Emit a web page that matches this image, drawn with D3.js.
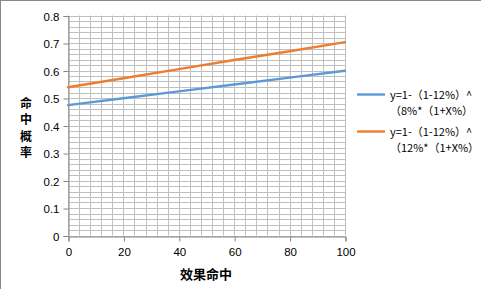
<!DOCTYPE html>
<html><head><meta charset="utf-8">
<script src="https://cdn.jsdelivr.net/npm/d3@7"></script>
<style>html,body{margin:0;padding:0;background:#fff;}svg{display:block;}</style>
</head><body><svg id="c" width="481" height="289"></svg>
<script>
const xValues = [0, 20, 40, 60, 80, 100];
const seriesBlue = [0.474, 0.499, 0.524, 0.549, 0.574, 0.599];
const seriesOrange = [0.539, 0.572, 0.605, 0.638, 0.670, 0.703];
const seriesNames = [["y=1-（1-12%）^", "（8%*（1+X%）"], ["y=1-（1-12%）^", "（12%*（1+X%）"]];
const seriesColors = ["#5B9BD5", "#ED7D31"];
const xTicks = [0, 20, 40, 60, 80, 100];
const yTicks = [0, 0.1, 0.2, 0.3, 0.4, 0.5, 0.6, 0.7, 0.8];
const xTitle = "效果命中";
const yTitle = ["命", "中", "概", "率"];

const svg = d3.select("#c");
const x = d3.scaleLinear().domain([0, 100]).range([68, 345]);
const y = d3.scaleLinear().domain([0, 0.8]).range([235.5, 15.5]);

// outer border (top & left visible)
svg.append("line").attr("x1",0).attr("x2",481).attr("y1",0.5).attr("y2",0.5).attr("stroke","#888").attr("stroke-width",1);
svg.append("line").attr("x1",0.5).attr("x2",0.5).attr("y1",0).attr("y2",289).attr("stroke","#888").attr("stroke-width",1);

// minor grid
const g = svg.append("g");
g.selectAll("line.v").data(d3.range(0, 101, 4)).join("line")
  .attr("x1", d => Math.round(x(d)) + 0.5).attr("x2", d => Math.round(x(d)) + 0.5)
  .attr("y1", y(0.8)).attr("y2", y(0))
  .attr("stroke", "#c0c0c0").attr("stroke-width", 1);
g.selectAll("line.h").data(d3.range(0, 41).map(i => i * 0.02)).join("line")
  .attr("x1", x(0)).attr("x2", x(100))
  .attr("y1", d => Math.round(y(d)) + 0.5).attr("y2", d => Math.round(y(d)) + 0.5)
  .attr("stroke", "#c0c0c0").attr("stroke-width", 1);

// axes
const xAxis = d3.axisBottom(x).tickValues(xTicks).tickSize(5).tickPadding(6).tickFormat(d3.format("d"));
const yAxis = d3.axisLeft(y).tickValues(yTicks).tickSize(5).tickPadding(4).tickFormat(d => d === 0 ? "0" : d3.format(".1f")(d));
const xa = svg.append("g").attr("transform", `translate(0.5,${Math.round(y(0)) + 0.5})`).call(xAxis);
const ya = svg.append("g").attr("transform", `translate(${Math.round(x(0)) + 0.5},0.5)`).call(yAxis);
[xa, ya].forEach(a => {
  a.select(".domain").attr("stroke", "#868686");
  a.selectAll(".tick line").attr("stroke", "#868686");
  a.selectAll("text").attr("font-family", "'Liberation Sans', Arial, sans-serif").attr("font-size", 11.5).attr("fill", "#000");
});
ya.selectAll("text").attr("dy", "0.35em");

// lines
const line = d3.line().x((d, i) => x(xValues[i])).y(d => y(d));
[seriesBlue, seriesOrange].forEach((s, i) => {
  svg.append("path").datum(s).attr("d", line).attr("fill", "none")
    .attr("stroke", seriesColors[i]).attr("stroke-width", 2.4).attr("stroke-linecap", "round");
});

// titles
svg.append("text").attr("x", 206).attr("y", 279).attr("text-anchor", "middle")
  .attr("font-family", "'Noto Sans CJK SC', sans-serif").attr("font-weight", "bold").attr("font-size", 13).attr("fill", "#000")
  .text(xTitle);
svg.append("g").selectAll("text").data(yTitle).join("text")
  .attr("x", 26).attr("y", (d, i) => 108 + i * 16.3).attr("text-anchor", "middle")
  .attr("font-family", "'Noto Sans CJK SC', sans-serif").attr("font-weight", "bold").attr("font-size", 12).attr("fill", "#000")
  .text(d => d);

// legend
const legY = [94.5, 131.5];
seriesNames.forEach((lines, i) => {
  svg.append("line").attr("x1", 357).attr("x2", 385).attr("y1", legY[i]).attr("y2", legY[i])
    .attr("stroke", seriesColors[i]).attr("stroke-width", 2.4);
  lines.forEach((t, j) => {
    svg.append("text").attr("x", 390).attr("y", legY[i] + 4.5 + j * 16)
      .attr("font-family", "'Noto Sans CJK SC', sans-serif").attr("font-size", 11).attr("fill", "#000")
      .text(t);
  });
});
</script></body></html>
